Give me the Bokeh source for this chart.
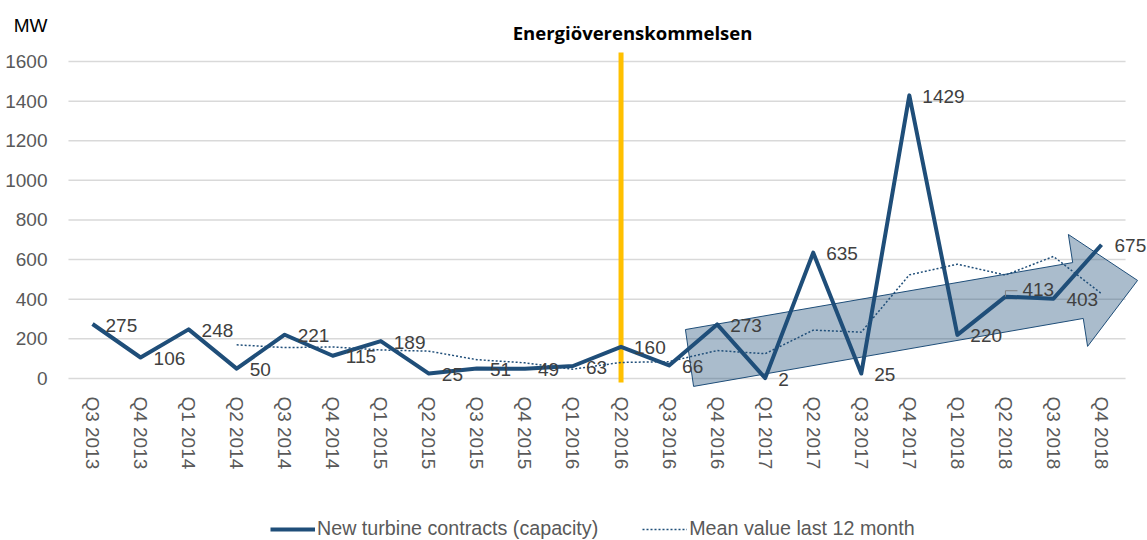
from bokeh.plotting import figure
from bokeh.models import Range1d, FixedTicker, Legend, LegendItem
from bokeh.core.properties import value
from bokeh.embed import file_html
from bokeh.resources import INLINE

# ---------------- data ----------------
quarters = ["Q3 2013", "Q4 2013", "Q1 2014", "Q2 2014", "Q3 2014", "Q4 2014",
            "Q1 2015", "Q2 2015", "Q3 2015", "Q4 2015", "Q1 2016", "Q2 2016",
            "Q3 2016", "Q4 2016", "Q1 2017", "Q2 2017", "Q3 2017", "Q4 2017",
            "Q1 2018", "Q2 2018", "Q3 2018", "Q4 2018"]
contracts = [275, 106, 248, 50, 221, 115, 189, 25, 51, 49, 63, 160,
             66, 273, 2, 635, 25, 1429, 220, 413, 403, 675]
# mean value last 12 month, starts at Q2 2014
mean_quarters = quarters[3:]
mean_12m = [170, 156, 159, 144, 138, 95, 79, 47, 81, 85, 141, 125,
            244, 234, 523, 577, 522, 616, 428]
y_ticks = [0, 200, 400, 600, 800, 1000, 1200, 1400, 1600]
event_label = "Energiöverenskommelsen"
event_quarter = "Q2 2016"
unit_label = "MW"
series_names = ["New turbine contracts (capacity)", "Mean value last 12 month"]
moved_label_quarter = "Q2 2018"   # label pulled up with a leader line

# trend arrow outline (category index, MW)
arrow_x = [12.51, 12.34, 20.40, 20.31, 21.75, 20.71, 20.62]
arrow_y = [-40, 247, 585, 727, 495, 162, 303]

# ---------------- style ----------------
BLUE = "#1F4E79"
GOLD = "#FFC000"
GRID = "#D9D9D9"
TICK = "#595959"
LABEL = "#404040"
FONT = value("Liberation Sans")

idx = list(range(len(quarters)))
mean_idx = [quarters.index(q) for q in mean_quarters]
ev = quarters.index(event_quarter)
mv = quarters.index(moved_label_quarter)

p = figure(width=1147, height=540, output_backend="svg", toolbar_location=None,
           x_range=Range1d(-1.915, 21.957), y_range=Range1d(-817.7, 1907.9),
           min_border_left=0, min_border_right=0, min_border_top=0,
           min_border_bottom=0)
p.outline_line_color = None
p.background_fill_color = "white"
p.xgrid.visible = False
p.ygrid.visible = False

# gridlines (limited to the category span)
p.segment(x0=-0.5, x1=len(quarters) - 0.5, y0=y_ticks, y1=y_ticks,
          line_color=GRID, line_width=1.5)

# y axis
p.yaxis.ticker = FixedTicker(ticks=y_ticks)
p.yaxis.fixed_location = -0.5
p.yaxis.axis_line_color = None
p.yaxis.major_tick_line_color = None
p.yaxis.minor_tick_line_color = None
p.yaxis.major_label_text_font = "Liberation Sans"
p.yaxis.major_label_text_font_size = "19px"
p.yaxis.major_label_text_color = TICK
p.yaxis.major_label_standoff = 15

# x axis
p.xaxis.ticker = FixedTicker(ticks=idx)
p.xaxis.major_label_overrides = {i: q for i, q in zip(idx, quarters)}
p.xaxis.major_label_orientation = "vertical"
p.xaxis.fixed_location = -45
p.xaxis.axis_line_color = None
p.xaxis.major_tick_line_color = None
p.xaxis.minor_tick_line_color = None
p.xaxis.major_label_text_font = "Liberation Sans"
p.xaxis.major_label_text_font_size = "19px"
p.xaxis.major_label_text_color = TICK
p.xaxis.major_label_standoff = 3

# event line
p.segment(x0=[ev], x1=[ev], y0=[-20], y1=[1645], line_color=GOLD, line_width=5)
p.text(x=[ev + 0.24], y=[1746], text=[event_label], text_font=value("Open Sans"),
       text_font_style="bold", text_font_size="18.5px", text_color="black",
       text_align="center", text_baseline="middle")

# series
r_mean = p.line(mean_idx, mean_12m, line_color=BLUE, line_width=1.5, line_dash="2 2")
r_main = p.line(idx, contracts, line_color=BLUE, line_width=4, line_join="round")

# trend arrow
p.patch(arrow_x, arrow_y, fill_color=BLUE, fill_alpha=0.38,
        line_color=BLUE, line_width=1)

# data labels
norm_idx = [i for i in idx if i != mv]
p.text(x=norm_idx, y=[contracts[i] for i in norm_idx],
       text=[str(contracts[i]) for i in norm_idx], x_offset=13, y_offset=1,
       text_font=FONT, text_font_size="19px", text_color=LABEL,
       text_align="left", text_baseline="middle")
# moved label with small leader line
p.text(x=[mv], y=[contracts[mv]], text=[str(contracts[mv])], x_offset=17, y_offset=-7,
       text_font=FONT, text_font_size="19px", text_color=LABEL,
       text_align="left", text_baseline="middle")
p.line(x=[mv, mv, mv + 0.25], y=[contracts[mv], contracts[mv] + 30, contracts[mv] + 30],
       line_color="#7F7F7F", line_width=1)

# unit label
p.text(x=[-1.29], y=[1782], text=[unit_label], text_font=FONT,
       text_font_size="19px", text_color="black",
       text_align="center", text_baseline="middle")

legend = Legend(items=[LegendItem(label=series_names[0], renderers=[r_main]),
                       LegendItem(label=series_names[1], renderers=[r_mean])],
                orientation="horizontal", location=(270, 0),
                padding=0, margin=0, spacing=44, label_standoff=2,
                glyph_width=45, glyph_height=20, label_height=20,
                label_text_font="Liberation Sans", label_text_font_size="19.7px",
                label_text_color=TICK, border_line_alpha=0,
                background_fill_alpha=0)
p.add_layout(legend)

open("out.html", "w").write(file_html(p, INLINE))
